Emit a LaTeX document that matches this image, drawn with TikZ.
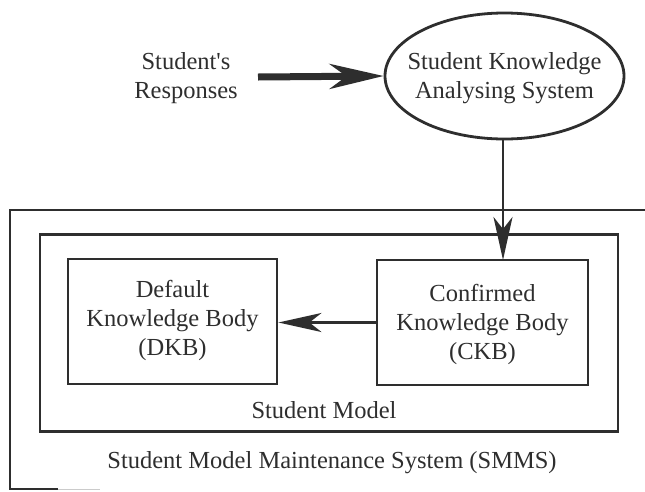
\documentclass[tikz,border=0pt]{standalone}
\usepackage{fontspec}
\setmainfont{Liberation Serif}
\usetikzlibrary{shapes.geometric,arrows.meta}
\definecolor{ink}{HTML}{2E2E2E}
\begin{document}
\begin{tikzpicture}[x=1pt,y=-1pt,
  lbl/.style={font=\fontsize{24.5}{29}\selectfont, text=ink, align=center, inner sep=0pt},
  boxnode/.style={draw=ink, line width=2.8pt, rectangle, inner sep=0pt, align=center},
  bigarrow/.style={draw=ink, line width=7pt, -{Stealth[length=54pt,width=25pt,inset=17pt]}},
  thinarrow/.style={draw=ink, line width=2.8pt, -{Stealth[length=43pt,width=19pt,inset=12pt]}}]
\useasboundingbox (0,0) rectangle (645,491);
% outer frame (open on the right and bottom)
\draw[ink, line width=2.8pt] (645,210) -- (10,210) -- (10,489) -- (58,489);
\draw[ink!25, line width=1pt] (58,489) -- (100,489);
\node[lbl] (smms) at (332,463) {Student Model Maintenance System (SMMS)};
% student model box
\node[boxnode, minimum width=578pt, minimum height=197.5pt] (sm) at (329,333) {};
\node[lbl] (smlbl) at (324,410) {Student Model};
% knowledge bodies
\node[boxnode, minimum width=209pt, minimum height=125pt] (dkb) at (172.5,321.5) {};
\node[lbl] (dkbt) at (172.5,320) {Default\\Knowledge Body\\(DKB)};
\node[boxnode, minimum width=211pt, minimum height=125pt] (ckb) at (482.5,322.5) {};
\node[lbl] (ckbt) at (482.5,324) {Confirmed\\Knowledge Body\\(CKB)};
% analysing system
\node[draw=ink, line width=2.8pt, ellipse, minimum width=239pt, minimum height=126pt, inner sep=0pt] (ska) at (504.5,76) {};
\node[lbl] (skat) at (504.5,78) {Student Knowledge\\Analysing System};
% responses
\node[lbl] (resp) at (186,78) {Student\textquotesingle s\\Responses};
\coordinate (rs) at (258,77);
% connectors
\draw[bigarrow] (rs) -- (ska.west);
\draw[thinarrow] (503,139) -- (503,260);
\draw[thinarrow] (ckb.west) -- (ckb.west -| dkb.east);
\end{tikzpicture}
\end{document}
